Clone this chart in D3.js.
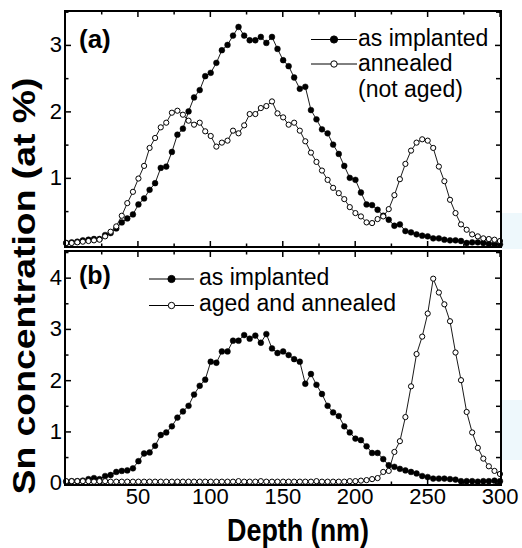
<!DOCTYPE html>
<html>
<head>
<meta charset="utf-8">
<script src="https://cdn.jsdelivr.net/npm/d3@7"></script>
<style>
  body { margin: 0; background: #fff; }
  svg { display: block; font-family: "Liberation Sans", Arial, sans-serif; }
</style>
</head>
<body>
<svg id="chart" width="522" height="548"></svg>
<script>
// depth grid (nm), shared by all four profiles
var depth = [0.8, 4.6, 8.5, 12.3, 16.2, 20.0, 23.8, 27.7, 31.5, 35.4,
  39.2, 43.0, 46.9, 50.7, 54.6, 58.4, 62.2, 66.1, 69.9, 73.8,
  77.6, 81.4, 85.3, 89.1, 93.0, 96.8, 100.6, 104.5, 108.3, 112.2,
  116.0, 119.8, 123.7, 127.5, 131.4, 135.2, 139.0, 142.9, 146.7, 150.6,
  154.4, 158.2, 162.1, 165.9, 169.8, 173.6, 177.4, 181.3, 185.1, 189.0,
  192.8, 196.6, 200.5, 204.3, 208.2, 212.0, 215.8, 219.7, 223.5, 227.4,
  231.2, 235.0, 238.9, 242.7, 246.6, 250.4, 254.2, 258.1, 261.9, 265.8,
  269.6, 273.4, 277.3, 281.1, 285.0, 288.8, 292.6, 296.5, 300.3];

// (a) as implanted
var implantedA = [0.02, 0.03, 0.04, 0.06, 0.07, 0.08, 0.08, 0.14, 0.17, 0.24,
  0.33, 0.39, 0.45, 0.60, 0.69, 0.82, 0.92, 1.15, 1.17, 1.39,
  1.65, 1.74, 2.00, 2.21, 2.32, 2.53, 2.58, 2.73, 2.92, 3.00,
  3.14, 3.27, 3.14, 3.07, 3.07, 3.12, 3.03, 3.12, 2.94, 2.77,
  2.68, 2.51, 2.34, 2.37, 2.02, 1.88, 1.73, 1.67, 1.50, 1.36,
  1.18, 1.00, 0.97, 0.78, 0.60, 0.59, 0.52, 0.43, 0.37, 0.28,
  0.30, 0.20, 0.18, 0.15, 0.13, 0.12, 0.09, 0.09, 0.07, 0.06,
  0.06, 0.05, 0.02, 0.03, 0.03, 0.02, 0.01, 0.00, 0.00];

// (a) annealed (not aged)
var annealedA = [0.02, 0.02, 0.03, 0.04, 0.05, 0.06, 0.07, 0.12, 0.19, 0.27,
  0.43, 0.62, 0.79, 0.99, 1.18, 1.45, 1.60, 1.76, 1.83, 1.98,
  2.01, 1.95, 1.86, 1.80, 1.83, 1.70, 1.63, 1.47, 1.53, 1.56,
  1.71, 1.67, 1.79, 1.96, 1.96, 2.05, 2.08, 2.15, 1.97, 1.91,
  1.80, 1.83, 1.71, 1.55, 1.38, 1.24, 1.11, 0.97, 0.85, 0.77,
  0.68, 0.56, 0.47, 0.42, 0.33, 0.32, 0.38, 0.42, 0.53, 0.74,
  0.98, 1.21, 1.41, 1.53, 1.58, 1.56, 1.45, 1.17, 0.95, 0.67,
  0.47, 0.30, 0.22, 0.15, 0.12, 0.09, 0.08, 0.07, 0.05];

// (b) as implanted
var implantedB = [0.02, 0.03, 0.03, 0.04, 0.07, 0.09, 0.07, 0.13, 0.15, 0.21,
  0.23, 0.24, 0.28, 0.42, 0.57, 0.59, 0.72, 0.93, 0.98, 1.10,
  1.27, 1.39, 1.50, 1.72, 1.89, 2.01, 2.36, 2.34, 2.56, 2.56,
  2.77, 2.77, 2.88, 2.81, 2.87, 2.73, 2.90, 2.62, 2.53, 2.56,
  2.49, 2.41, 2.36, 1.93, 2.12, 1.91, 1.73, 1.50, 1.37, 1.30,
  1.10, 0.98, 0.86, 0.83, 0.71, 0.58, 0.58, 0.46, 0.34, 0.31,
  0.27, 0.24, 0.21, 0.18, 0.13, 0.11, 0.08, 0.08, 0.08, 0.07,
  0.06, 0.03, 0.03, 0.03, 0.02, 0.03, 0.03, 0.04, 0.03];

// (b) aged and annealed
var agedB = [0.03, 0.03, 0.03, 0.03, 0.03, 0.02, 0.03, 0.03, 0.02, 0.02,
  0.02, 0.02, 0.02, 0.02, 0.02, 0.02, 0.02, 0.02, 0.02, 0.02,
  0.02, 0.02, 0.02, 0.02, 0.02, 0.02, 0.02, 0.02, 0.02, 0.02,
  0.02, 0.03, 0.02, 0.02, 0.02, 0.03, 0.02, 0.02, 0.02, 0.02,
  0.02, 0.02, 0.02, 0.02, 0.02, 0.03, 0.02, 0.02, 0.02, 0.02,
  0.02, 0.03, 0.03, 0.04, 0.05, 0.07, 0.09, 0.21, 0.23, 0.60,
  0.81, 1.28, 1.88, 2.51, 2.85, 3.30, 3.98, 3.71, 3.48, 3.15,
  2.54, 2.00, 1.38, 0.98, 0.68, 0.47, 0.32, 0.23, 0.17];

var xTicks = [50, 100, 150, 200, 250, 300];
var xMinor = [25, 75, 125, 175, 225, 275];
var yTicksA = [1, 2, 3];
var yMinorA = [0.5, 1.5, 2.5, 3.5];
var yTicksB = [0, 1, 2, 3, 4];
var yMinorB = [0.5, 1.5, 2.5, 3.5, 4.5];

var svg = d3.select("#chart");
var left = 65, right = 501;

var x = d3.scaleLinear().domain([0, 301]).range([left, right]);

// faint scan tint on the right edge of the original
svg.append("rect").attr("x", 502).attr("y", 213).attr("width", 20).attr("height", 36).attr("fill", "#eef8fc");
svg.append("rect").attr("x", 502).attr("y", 400).attr("width", 20).attr("height", 60).attr("fill", "#eef8fc");

var panels = [
  {top: 11, bottom: 247, domain: [-0.04, 3.51], ticks: yTicksA, minor: yMinorA, labelX: true,
   tag: "(a)", tagY: 48, tagSize: 26,
   series: [{v: implantedA, filled: true}, {v: annealedA, filled: false}]},
  {top: 251, bottom: 485, domain: [-0.045, 4.52], ticks: yTicksB, minor: yMinorB, labelX: false,
   tag: "(b)", tagY: 284, tagSize: 25,
   series: [{v: implantedB, filled: true}, {v: agedB, filled: false}]}
];

panels.forEach(function (p, k) {
  var y = d3.scaleLinear().domain(p.domain).range([p.bottom, p.top]);
  var g = svg.append("g");

  // ticks, all pointing inward
  function ax(axis, tx, ty, vals, size, fmt) {
    var a = g.append("g").attr("transform", "translate(" + tx + "," + ty + ")")
      .call(axis.tickValues(vals).tickSize(size).tickPadding(3).tickFormat(fmt));
    a.select(".domain").remove();
    a.selectAll("line").attr("stroke", "#000").attr("stroke-width", 1.5);
    a.selectAll("text").attr("fill", "#000").style("font-size", "22px");
    return a;
  }
  var none = function () { return ""; };
  var showX = k === 1 ? d3.format("d") : none;
  ax(d3.axisBottom(x), 0, p.bottom, xTicks, -6, showX);
  ax(d3.axisBottom(x), 0, p.bottom, xMinor, -3.5, none);
  ax(d3.axisTop(x), 0, p.top, xTicks, -6, none);
  ax(d3.axisTop(x), 0, p.top, xMinor, -3.5, none);
  ax(d3.axisLeft(y), left, 0, p.ticks, -6, d3.format("d"));
  ax(d3.axisLeft(y), left, 0, p.minor.filter(function (v) { return v < p.domain[1]; }), -3.5, none);
  ax(d3.axisRight(y), right, 0, p.ticks, -6, none);
  ax(d3.axisRight(y), right, 0, p.minor.filter(function (v) { return v < p.domain[1]; }), -5, none);

  var line = d3.line().x(function (d, i) { return x(depth[i]); }).y(function (d) { return y(d); });

  p.series.forEach(function (s) {
    g.append("path").datum(s.v).attr("d", line)
      .attr("fill", "none").attr("stroke", "#000").attr("stroke-width", 0.9);
    g.selectAll(null).data(s.v).enter().append("circle")
      .attr("cx", function (d, i) { return x(depth[i]); })
      .attr("cy", function (d) { return y(d); })
      .attr("r", s.filled ? 2.9 : 2.6)
      .attr("fill", s.filled ? "#000" : "#fff")
      .attr("stroke", "#000").attr("stroke-width", s.filled ? 0.5 : 1);
  });

  g.append("rect").attr("x", left).attr("y", p.top)
    .attr("width", right - left).attr("height", p.bottom - p.top)
    .attr("fill", "none").attr("stroke", "#000").attr("stroke-width", 2);

  g.append("text").attr("x", 79).attr("y", p.tagY)
    .style("font-size", p.tagSize + "px").style("font-weight", "bold").text(p.tag);
});

// legends
function legendRow(x0, x1, cy, tx, ty, filled, label) {
  svg.append("line").attr("x1", x0).attr("x2", x1).attr("y1", cy).attr("y2", cy)
    .attr("stroke", "#000").attr("stroke-width", 1);
  svg.append("circle").attr("cx", (x0 + x1) / 2).attr("cy", cy)
    .attr("r", filled ? 3.6 : 3.2)
    .attr("fill", filled ? "#000" : "#fff").attr("stroke", "#000").attr("stroke-width", 1);
  svg.append("text").attr("x", tx).attr("y", ty).style("font-size", "23px").text(label);
}
legendRow(311, 357, 39.5, 358, 46, true, "as implanted");
legendRow(311, 357, 64, 358, 70.5, false, "annealed");
svg.append("text").attr("x", 358).attr("y", 96.5).style("font-size", "23px").text("(not aged)");

legendRow(149, 194, 279, 199, 284.5, true, "as implanted");
legendRow(149, 194, 305.5, 199, 310.5, false, "aged and annealed");

// axis titles
svg.append("text").attr("transform", "translate(35,286) rotate(-90)")
  .attr("text-anchor", "middle").attr("textLength", 417).attr("lengthAdjust", "spacingAndGlyphs")
  .style("font-size", "31px").style("font-weight", "bold").text("Sn concentration (at %)");

svg.append("text").attr("x", 298).attr("y", 541)
  .attr("text-anchor", "middle").attr("textLength", 142).attr("lengthAdjust", "spacingAndGlyphs")
  .style("font-size", "32px").style("font-weight", "bold").text("Depth (nm)");
</script>
</body>
</html>
